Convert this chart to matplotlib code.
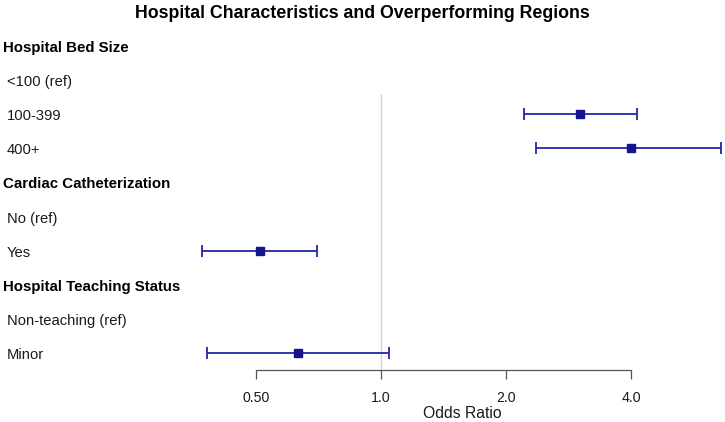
import matplotlib
matplotlib.use("Agg")
import matplotlib.pyplot as plt
from matplotlib.transforms import blended_transform_factory
import numpy as np

plt.rcParams['font.family'] = ['Liberation Sans', 'DejaVu Sans']

# ---- data ----
row_labels = ["Hospital Bed Size", "<100 (ref)", "100-399", "400+",
              "Cardiac Catheterization", "No (ref)", "Yes",
              "Hospital Teaching Status", "Non-teaching (ref)", "Minor"]
row_is_header = [True, False, False, False, True, False, False, True, False, False]
est_labels = ["100-399", "400+", "Yes", "Minor"]
odds_ratio = [3.01, 4.00, 0.51, 0.63]
ci_lower = [2.21, 2.36, 0.37, 0.38]
ci_upper = [4.14, 6.60, 0.70, 1.045]
tick_values = [0.5, 1.0, 2.0, 4.0]
tick_labels = ["0.50", "1.0", "2.0", "4.0"]

W, H = 725, 422
fig = plt.figure(figsize=(W / 100, H / 100), dpi=100)
ax_left, ax_right = 200, 724
ax_top, ax_bot = 29, 370
ax = fig.add_axes([ax_left / W, 1 - ax_bot / H, (ax_right - ax_left) / W, (ax_bot - ax_top) / H])

ax.set_xscale('log', base=2)
ax.set_xlim(0.366, 6.70)
ax.set_ylim(len(row_labels) - 0.5, -0.5)

# reference line
ax.vlines(1.0, 1.42, len(row_labels) - 0.5, color='#d4d4d4', lw=1.0, zorder=1)

ypos = [row_labels.index(l) for l in est_labels]
err = [np.array(odds_ratio) - np.array(ci_lower), np.array(ci_upper) - np.array(odds_ratio)]
ax.errorbar(odds_ratio, ypos, xerr=err, fmt='none', ecolor='#2424a8', elinewidth=1.3,
            capsize=4.5, capthick=1.3, zorder=2, clip_on=False)
ax.plot(odds_ratio, ypos, 's', color='#14148e', ms=6.3, zorder=3, clip_on=False)

# row labels
tr = blended_transform_factory(fig.transFigure, ax.transData)
for i, (lab, hdr) in enumerate(zip(row_labels, row_is_header)):
    if hdr:
        ax.text(3 / W, i + 0.06, lab, transform=tr, ha='left', va='center',
                fontsize=10.8, fontweight='bold', color='black')
    else:
        ax.text(7 / W, i + 0.06, lab, transform=tr, ha='left', va='center',
                fontsize=10.6, color='#1a1a1a')

# axes styling
for s in ['top', 'right', 'left']:
    ax.spines[s].set_visible(False)
ax.spines['bottom'].set_bounds(tick_values[0], tick_values[-1])
ax.spines['bottom'].set_color('#555555')
ax.spines['bottom'].set_linewidth(0.9)
ax.set_yticks([])
ax.set_xticks(tick_values)
ax.set_xticklabels(tick_labels)
ax.xaxis.set_minor_locator(matplotlib.ticker.NullLocator())
ax.tick_params(axis='x', direction='out', length=6.5, width=0.9, color='#555555',
               labelsize=10.2, labelcolor='#1a1a1a', pad=8.5)
ax.set_xlabel("Odds Ratio", fontsize=11.3, color='#1a1a1a', labelpad=1)

fig.text(0.5, 1 - 13 / H, "Hospital Characteristics and Overperforming Regions",
         ha='center', va='center', fontsize=12.8, fontweight='bold')

fig.savefig("out.png", dpi=100)
